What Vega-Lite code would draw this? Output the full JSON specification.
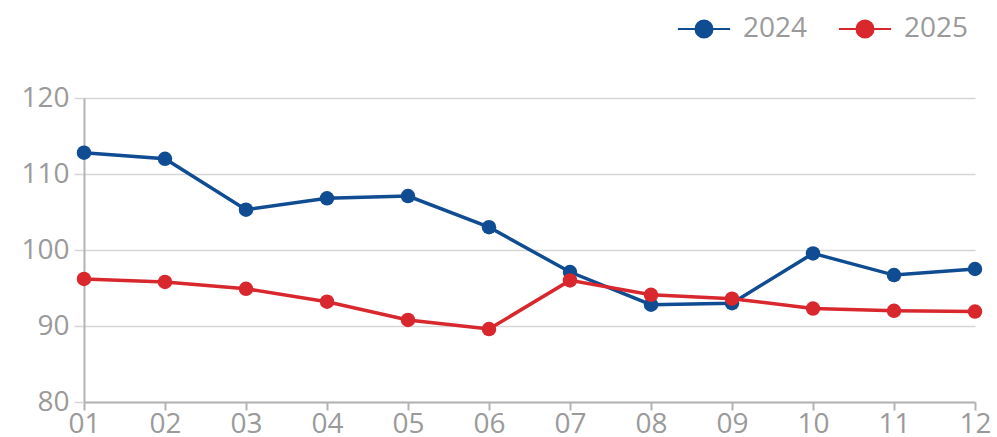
{
  "$schema": "https://vega.github.io/schema/vega-lite/v6.json",
  "autosize": "none",
  "width": 891,
  "height": 304,
  "padding": {"left": 84, "top": 98, "right": 22, "bottom": 35},
  "data": {
    "values": [
      {"month": "01", "year": "2024", "value": 112.8},
      {"month": "02", "year": "2024", "value": 112.0},
      {"month": "03", "year": "2024", "value": 105.3},
      {"month": "04", "year": "2024", "value": 106.8},
      {"month": "05", "year": "2024", "value": 107.1},
      {"month": "06", "year": "2024", "value": 103.0},
      {"month": "07", "year": "2024", "value": 97.1},
      {"month": "08", "year": "2024", "value": 92.8},
      {"month": "09", "year": "2024", "value": 93.0},
      {"month": "10", "year": "2024", "value": 99.55},
      {"month": "11", "year": "2024", "value": 96.7},
      {"month": "12", "year": "2024", "value": 97.5},
      {"month": "01", "year": "2025", "value": 96.2},
      {"month": "02", "year": "2025", "value": 95.8},
      {"month": "03", "year": "2025", "value": 94.9},
      {"month": "04", "year": "2025", "value": 93.2},
      {"month": "05", "year": "2025", "value": 90.8},
      {"month": "06", "year": "2025", "value": 89.6},
      {"month": "07", "year": "2025", "value": 96.0},
      {"month": "08", "year": "2025", "value": 94.1},
      {"month": "09", "year": "2025", "value": 93.6},
      {"month": "10", "year": "2025", "value": 92.3},
      {"month": "11", "year": "2025", "value": 92.0},
      {"month": "12", "year": "2025", "value": 91.9}
    ]
  },
  "mark": {
    "type": "line",
    "strokeWidth": 3.5,
    "point": {"filled": true, "size": 210, "opacity": 1}
  },
  "encoding": {
    "x": {
      "field": "month",
      "type": "ordinal",
      "title": null,
      "scale": {"type": "point", "padding": 0},
      "axis": {
        "labelAngle": 0,
        "grid": false,
        "domainColor": "#b3b3b3",
        "domainWidth": 2,
        "tickColor": "#b3b3b3",
        "tickWidth": 2,
        "tickSize": 8,
        "labelPadding": 0,
        "labelFontSize": 28,
        "labelColor": "#9a9a9a",
        "labelFont": "Open Sans"
      }
    },
    "y": {
      "field": "value",
      "type": "quantitative",
      "title": null,
      "scale": {"domain": [80, 120], "nice": false, "zero": false},
      "axis": {
        "values": [80, 90, 100, 110, 120],
        "grid": true,
        "gridColor": "#d6d6d6",
        "gridWidth": 1.5,
        "domainColor": "#b3b3b3",
        "domainWidth": 2,
        "tickColor": "#d6d6d6",
        "tickWidth": 1.5,
        "tickSize": 10,
        "labelPadding": 5,
        "labelFontSize": 28,
        "labelColor": "#9a9a9a",
        "labelFont": "Open Sans"
      }
    },
    "color": {
      "field": "year",
      "type": "nominal",
      "scale": {"domain": ["2024", "2025"], "range": ["#0f4c92", "#d9272e"]},
      "legend": {
        "title": null,
        "orient": "none",
        "direction": "horizontal",
        "legendX": 606,
        "legendY": -83,
        "symbolType": "M-2.9,0L-1,0M1,0L2.9,0M0.95,0A0.95,0.95,0,1,1,-0.95,0A0.95,0.95,0,1,1,0.95,0Z",
        "symbolSize": 324,
        "symbolStrokeWidth": 2,
        "labelOffset": 25,
        "columnPadding": 26,
        "labelFontSize": 28,
        "labelColor": "#9a9a9a",
        "labelFont": "Open Sans",
        "encode": {
          "symbols": {
            "update": {
              "fill": {"scale": "color", "field": "value"},
              "stroke": {"scale": "color", "field": "value"},
              "opacity": {"value": 1}
            }
          }
        }
      }
    }
  },
  "config": {"view": {"stroke": null}}
}
